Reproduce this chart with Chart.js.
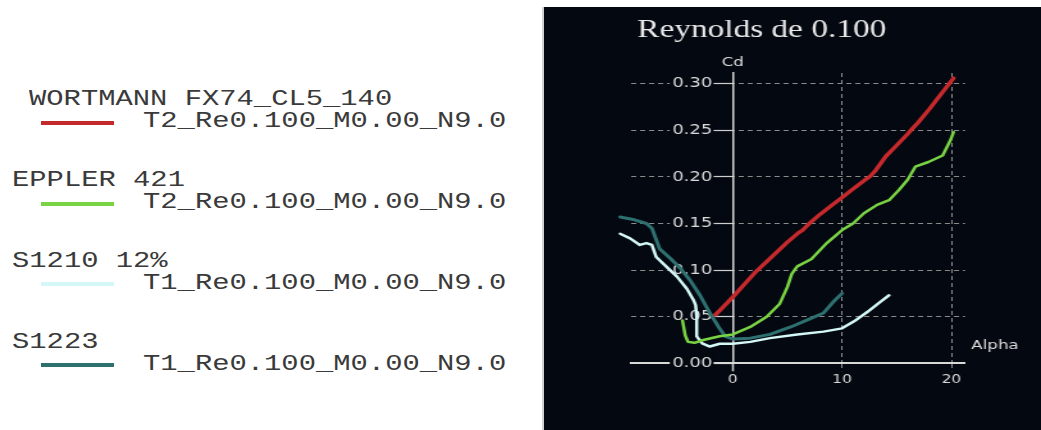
<!DOCTYPE html>
<html>
<head>
<meta charset="utf-8">
<script src="https://cdn.jsdelivr.net/npm/chart.js@4.4.1/dist/chart.umd.min.js"></script>
<style>
  html, body { margin: 0; padding: 0; background: #ffffff; width: 1041px; height: 430px; overflow: hidden; }
  #legend { position: absolute; left: 0; top: 0; width: 540px; height: 430px; }
  .lg-text {
    position: absolute; margin: 0;
    font-family: "Liberation Mono", monospace; font-size: 22px; line-height: 22px;
    color: #3a3a3a; white-space: pre;
    transform: scaleX(1.31); transform-origin: 0 0;
  }
  .lg-line { position: absolute; width: 73px; height: 4px; }
  #edge { position: absolute; left: 542px; top: 7px; width: 2px; height: 423px; background: #d2d2d2; }
  #panel { position: absolute; left: 544px; top: 7px; width: 497px; height: 423px; background: #040811; overflow: hidden; }
  #plot { position: absolute; left: 0; top: 0; width: 388px; height: 423px; transform: scaleX(1.2809); transform-origin: 0 0; }
</style>
</head>
<body>
<div id="legend"></div>
<div id="edge"></div>
<div id="panel"><div id="plot"><canvas id="polar"></canvas></div></div>
<script>
// Airfoil polars: drag coefficient Cd against angle of attack Alpha
const chartTitle = 'Reynolds de 0.100';
const xAxisTitle = 'Alpha';
const yAxisTitle = 'Cd';

const airfoilNames = ['WORTMANN FX74_CL5_140', 'EPPLER 421', 'S1210 12%', 'S1223'];
const polarNames = ['T2_Re0.100_M0.00_N9.0', 'T2_Re0.100_M0.00_N9.0', 'T1_Re0.100_M0.00_N9.0', 'T1_Re0.100_M0.00_N9.0'];
const seriesColors = ['#c4292c', '#79d444', '#d4f7f7', '#2e7070'];

const alphaRange = [-9.3, 21.25];
const cdRange = [0, 0.3115];
const alphaTicks = [0, 10, 20];
const cdTickStep = 0.05;

// WORTMANN FX74_CL5_140
const alphaWortmann = [-1.6, -1, 0, 1, 2, 3, 4, 5, 6, 6.4, 7, 8, 9, 10, 11, 12, 12.6, 13, 14, 15, 16, 16.3, 17, 18, 19, 20.2];
const cdWortmann = [0.052, 0.059, 0.071, 0.084, 0.097, 0.108, 0.119, 0.130, 0.140, 0.143, 0.150, 0.160, 0.169, 0.178, 0.187, 0.196, 0.201, 0.206, 0.222, 0.234, 0.246, 0.250, 0.259, 0.273, 0.288, 0.306];

// EPPLER 421
const alphaEppler = [-4.6, -4.35, -4.1, -3.5, -2.7, -1.2, 0, 1.6, 3.1, 4.3, 5.0, 5.4, 5.9, 7.2, 8.6, 10.0, 11.0, 12.0, 13.2, 14.3, 15.2, 16.0, 16.7, 17.9, 19.2, 19.9, 20.2];
const cdEppler = [0.046, 0.030, 0.023, 0.022, 0.025, 0.029, 0.031, 0.039, 0.050, 0.064, 0.082, 0.096, 0.104, 0.112, 0.129, 0.143, 0.150, 0.161, 0.170, 0.175, 0.186, 0.197, 0.211, 0.216, 0.223, 0.239, 0.248];

// S1210 12%
const alphaS1210 = [-10.3, -9.4, -8.5, -7.9, -7.4, -7.0, -6.1, -5.1, -4.2, -3.6, -3.4, -3.3, -3.3, -2.8, -2.1, -1.2, 0, 1.6, 3.4, 5.9, 8.3, 10.0, 11.1, 12.3, 13.5, 14.3];
const cdS1210 = [0.139, 0.134, 0.127, 0.129, 0.127, 0.114, 0.104, 0.093, 0.080, 0.068, 0.0625, 0.050, 0.029, 0.0214, 0.018, 0.021, 0.021, 0.023, 0.027, 0.031, 0.034, 0.0375, 0.045, 0.055, 0.066, 0.073];

// S1223
const alphaS1223 = [-10.3, -9.0, -7.9, -7.4, -6.7, -5.7, -4.8, -3.9, -3.0, -2.1, -1.3, -0.7, 0.06, 1.6, 3.4, 5.3, 7.1, 8.3, 9.2, 10.0];
const cdS1223 = [0.157, 0.154, 0.150, 0.145, 0.123, 0.1125, 0.102, 0.089, 0.073, 0.054, 0.039, 0.029, 0.026, 0.027, 0.031, 0.039, 0.048, 0.054, 0.066, 0.075];

const seriesAlpha = [alphaWortmann, alphaEppler, alphaS1210, alphaS1223];
const seriesCd = [cdWortmann, cdEppler, cdS1210, cdS1223];
const seriesWidths = [3.5, 2.5, 2.5, 3];

// ---- legend (left side) ----
const legend = document.getElementById('legend');
const nameLeft = [29.3, 11.7, 11.7, 11.7];
airfoilNames.forEach((name, i) => {
  const baseline = 106 + 80.8 * i;
  const n = document.createElement('div');
  n.className = 'lg-text';
  n.textContent = name;
  n.style.left = nameLeft[i] + 'px';
  n.style.top = (baseline - 16.85) + 'px';
  legend.appendChild(n);

  const ln = document.createElement('div');
  ln.className = 'lg-line';
  ln.style.left = '40.7px';
  ln.style.top = (baseline + 16.8 - 2) + 'px';
  ln.style.background = seriesColors[i];
  legend.appendChild(ln);

  const p = document.createElement('div');
  p.className = 'lg-text';
  p.textContent = polarNames[i];
  p.style.left = '143.3px';
  p.style.top = (baseline + 22.2 - 16.85) + 'px';
  legend.appendChild(p);
});

// ---- chart ----
const panelColor = '#040811';
const gridColor = '#8a8a8a';
const axisColor = '#d8d8d8';
const labelColor = '#dadada';

// Cd labels sit to the left of the tick marks of the axis drawn at Alpha = 0
// (the backdrop is positioned relative to the label origin, so it follows)
const yLabelsBesideTicks = {
  id: 'yLabelsBesideTicks',
  beforeDraw(chart) {
    const s = chart.scales.y;
    const off = s.options.grid.tickLength + s.options.ticks.padding;
    s.getLabelItems(chart.chartArea).forEach(item => {
      if (item._moved) return;
      item.options.translation[0] -= off;
      item._moved = true;
    });
  }
};

const axisText = {
  id: 'axisText',
  afterDraw(chart) {
    const {ctx, chartArea, scales: {x, y}} = chart;
    ctx.save();
    ctx.fillStyle = '#e8e8e8';
    ctx.textAlign = 'center';
    ctx.textBaseline = 'alphabetic';
    ctx.font = '26px "Liberation Serif"';
    ctx.fillText(chartTitle, chartArea.left + 102, 30);
    ctx.fillStyle = '#dcdcdc';
    ctx.textBaseline = 'middle';
    ctx.font = '13px "DejaVu Sans"';
    ctx.fillText(yAxisTitle, x.getPixelForValue(0), chartArea.top - 10);
    ctx.fillText(xAxisTitle, chartArea.right + 23.4, y.getPixelForValue(0) - 17.5);
    ctx.restore();
  }
};

const datasets = airfoilNames.map((name, i) => ({
  label: name,
  data: seriesAlpha[i].map((a, k) => ({x: a, y: seriesCd[i][k]})),
  borderColor: seriesColors[i],
  backgroundColor: seriesColors[i],
  borderWidth: seriesWidths[i],
  pointRadius: 0,
  tension: 0,
  fill: false,
  clip: false,
  borderJoinStyle: 'round',
  borderCapStyle: 'round'
}));

new Chart(document.getElementById('polar'), {
  type: 'line',
  data: { datasets },
  plugins: [yLabelsBesideTicks, axisText],
  options: {
    responsive: true,
    maintainAspectRatio: false,
    animation: false,
    devicePixelRatio: 1,
    layout: { padding: { left: 68, right: 59.3, top: 66, bottom: 0 } },
    plugins: { legend: { display: false }, title: { display: false }, tooltip: { enabled: false } },
    scales: {
      x: {
        type: 'linear',
        bounds: 'data',
        afterDataLimits(s) { s.min = alphaRange[0]; s.max = alphaRange[1]; },
        afterBuildTicks(s) { s.ticks = alphaTicks.map(v => ({value: v})); },
        afterFit(s) { s.height = 66.7; },
        ticks: {
          color: labelColor,
          font: { family: 'DejaVu Sans', size: 12 },
          padding: 1.5,
          maxRotation: 0,
          autoSkip: false,
          callback: v => String(v)
        },
        grid: {
          color: c => (c.tick && c.tick.value === 0) ? 'rgba(0,0,0,0)' : gridColor,
          lineWidth: 1,
          tickLength: 8,
          tickColor: c => (c.tick && c.tick.value === 0) ? axisColor : gridColor,
          tickWidth: c => (c.tick && c.tick.value === 0) ? 1.5 : 1,
          tickBorderDash: c => (c.tick && c.tick.value === 0) ? [] : [4, 3]
        },
        border: { color: axisColor, width: 2, dash: [4, 3] }
      },
      y: {
        type: 'linear',
        position: { x: 0 },
        min: cdRange[0],
        max: cdRange[1],
        ticks: {
          stepSize: cdTickStep,
          includeBounds: false,
          color: labelColor,
          font: { family: 'DejaVu Sans', size: 14 },
          padding: 1,
          callback: v => Number(v).toFixed(2),
          showLabelBackdrop: true,
          backdropColor: panelColor,
          backdropPadding: { left: 2, right: 1, top: 0, bottom: 0 }
        },
        grid: {
          color: c => (c.tick && c.tick.value === 0) ? 'rgba(0,0,0,0)' : gridColor,
          lineWidth: 1,
          tickLength: 15,
          tickColor: '#cfcfcf',
          tickWidth: 1.2,
          tickBorderDash: []
        },
        border: { color: axisColor, width: 1.5, dash: [4, 3] }
      }
    }
  }
});
</script>
</body>
</html>
